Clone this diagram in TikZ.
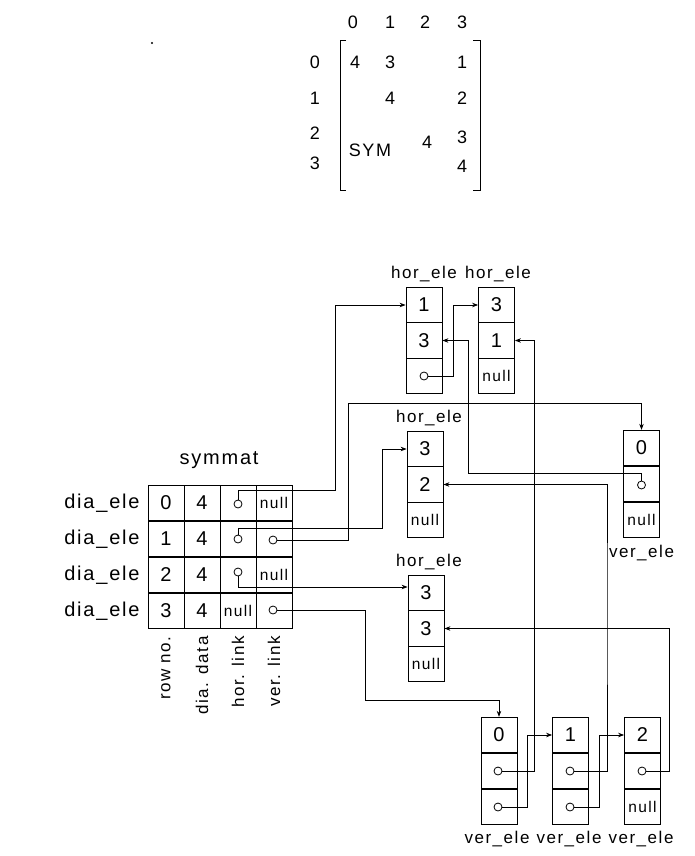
\documentclass[tikz,border=0pt]{standalone}
\usepackage{fontspec}
\setmainfont[LetterSpace=9]{Liberation Sans}
\usetikzlibrary{arrows.meta}
\begin{document}
\begin{tikzpicture}[x=1pt,y=-1pt,
  line width=0.8pt,
  every node/.style={font=\fontsize{18}{20}\selectfont},
  cell/.style={draw, minimum width=36pt, minimum height=35.5pt, inner sep=0pt, font=\fontsize{20}{22}\selectfont},
  nullcell/.style={cell, font=\fontsize{15.5}{17}\selectfont},
  ptr/.style={circle, draw, minimum size=8pt, inner sep=0pt},
  lbl/.style={font=\fontsize{17}{19}\selectfont, inner sep=0pt},
  big/.style={font=\fontsize{20}{22}\selectfont, inner sep=0pt},
  link/.style={line width=0.8pt, -{Stealth[length=6pt,width=4.5pt]}}]
\useasboundingbox (0,0) rectangle (694,856);

% ---------- matrix ----------
\fill (152,43) circle (1.2pt);
\node (ch0) at (353,22) {0};
\node (ch1) at (390,22) {1};
\node (ch2) at (425,22) {2};
\node (ch3) at (462,22) {3};
\node (rl0) at (315,62) {0};
\node (rl1) at (315,98) {1};
\node (rl2) at (315,133) {2};
\node (rl3) at (315,163) {3};
\node (m00) at (355,62) {4};
\node (m01) at (390,62) {3};
\node (m03) at (462,62) {1};
\node (m11) at (390,98) {4};
\node (m13) at (462,98) {2};
\node (m22) at (427,142) {4};
\node (m23) at (462,137) {3};
\node (m33) at (462,166) {4};
\node (sym) at (370,150) {SYM};
\draw (346,40) -- (340,40) -- (340,190) -- (346,190);
\draw (473,40) -- (480,40) -- (480,190) -- (473,190);

% ---------- symmat table ----------
\node[big] (title) at (219,460) {symmat};
\foreach \r/\y in {0/503,1/539,2/575,3/611}{
  \node[big, anchor=east] (dl\r) at (140,\y) {dia\_ele};
}
\node[cell] (s0a) at (166,503) {0};
\node[cell] (s0b) at (202,503) {4};
\node[cell] (s0c) at (238,503) {};
\node[nullcell] (s0d) at (274,503) {null};
\node[cell] (s1a) at (166,539) {1};
\node[cell] (s1b) at (202,539) {4};
\node[cell] (s1c) at (238,539) {};
\node[cell] (s1d) at (274,539) {};
\node[cell] (s2a) at (166,575) {2};
\node[cell] (s2b) at (202,575) {4};
\node[cell] (s2c) at (238,575) {};
\node[nullcell] (s2d) at (274,575) {null};
\node[cell] (s3a) at (166,611) {3};
\node[cell] (s3b) at (202,611) {4};
\node[nullcell] (s3c) at (238,611) {null};
\node[cell] (s3d) at (274,611) {};
\node[ptr] (s0h) at (238,504) {};
\node[ptr] (s1h) at (238,539) {};
\node[ptr] (s1v) at (273,540) {};
\node[ptr] (s2h) at (238,572) {};
\node[ptr] (s3v) at (273,610) {};
\node[lbl, rotate=90, anchor=east] (cl0) at (166,636) {row no.};
\node[lbl, rotate=90, anchor=east] (cl1) at (202,636) {dia. data};
\node[lbl, rotate=90, anchor=east] (cl2) at (238,636) {hor. link};
\node[lbl, rotate=90, anchor=east] (cl3) at (274,636) {ver. link};

% ---------- hor_ele boxes ----------
\node[cell] (h1a) at (424,305) {1};
\node[cell] (h1b) at (424,340.5) {3};
\node[cell] (h1c) at (424,376) {};
\node[ptr] (h1p) at (424,376) {};
\node[lbl, anchor=south] (h1l) at (424,282) {hor\_ele};

\node[cell] (h2a) at (496.5,305) {3};
\node[cell] (h2b) at (496.5,340.5) {1};
\node[nullcell] (h2c) at (496.5,376) {null};
\node[lbl, anchor=south] (h2l) at (498,282) {hor\_ele};

\node[cell] (h3a) at (425,449) {3};
\node[cell] (h3b) at (425,484.5) {2};
\node[nullcell] (h3c) at (425,520) {null};
\node[lbl, anchor=south] (h3l) at (429,426) {hor\_ele};

\node[cell] (h4a) at (426,593) {3};
\node[cell] (h4b) at (426,628.5) {3};
\node[nullcell] (h4c) at (426,664) {null};
\node[lbl, anchor=south] (h4l) at (429,570) {hor\_ele};

% ---------- ver_ele boxes ----------
\node[cell] (v0a) at (641.5,448) {0};
\node[cell] (v0b) at (641.5,484) {};
\node[nullcell] (v0c) at (641.5,520) {null};
\node[ptr] (v0p) at (641.5,485) {};
\node[lbl, anchor=north] (v0l) at (641.5,545) {ver\_ele};

\node[cell] (vaa) at (499,735) {0};
\node[cell] (vab) at (499,771) {};
\node[cell] (vac) at (499,807) {};
\node[ptr] (vap) at (498,771) {};
\node[ptr] (vaq) at (498,807) {};
\node[lbl, anchor=north] (val) at (497,831) {ver\_ele};

\node[cell] (vba) at (570.5,735) {1};
\node[cell] (vbb) at (570.5,771) {};
\node[cell] (vbc) at (570.5,807) {};
\node[ptr] (vbp) at (570,771) {};
\node[ptr] (vbq) at (570,807) {};
\node[lbl, anchor=north] (vbl) at (569,831) {ver\_ele};

\node[cell] (vca) at (642.5,735) {2};
\node[cell] (vcb) at (642.5,771) {};
\node[nullcell] (vcc) at (642.5,807) {null};
\node[ptr] (vcp) at (642,771) {};
\node[lbl, anchor=north] (vcl) at (641,831) {ver\_ele};

% ---------- connectors ----------
\draw[link] (s0h.north) |- (335,490) |- (h1a.west);
\draw[link] (h1p.east) -| ([xshift=-25pt]h2a.west) -- (h2a.west);
\draw[link] (v0p.north) |- (468,473) |- (h1b.east);
\draw[link] (vap.east) -| ([xshift=19pt]h2b.east) -- (h2b.east);
\draw[link] (s1h.north) |- (382,528) |- (h3a.west);
\draw[link] (s1v.east) -| (348,403) -| (v0a.north);
\draw[link] (vbp.east) -| (607,600) |- (h3b.east);
\draw[link] (s2h.south) |- ([yshift=6pt]h4a.west);
\draw[link] (vcp.east) -| (669,700) |- (h4b.east);
\draw[link] (s3v.east) -| (365,700) -| (vaa.north);
\draw[link] (vaq.east) -| ([xshift=-25pt]vba.west) -- (vba.west);
\draw[link] (vbq.east) -| ([xshift=-25pt]vca.west) -- (vca.west);
\end{tikzpicture}
\end{document}
